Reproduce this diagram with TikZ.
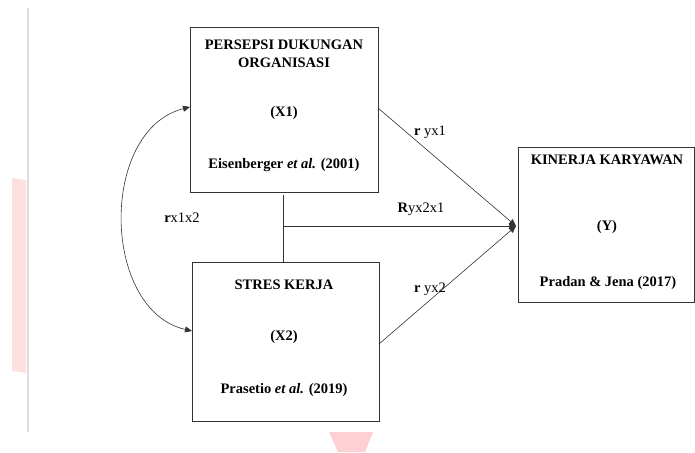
\documentclass[tikz,border=0pt]{standalone}
\usepackage{fontspec}
\setmainfont{Liberation Serif}
\usetikzlibrary{arrows.meta}
\definecolor{pinkbar}{HTML}{FDE0E0}
\definecolor{pinktri}{HTML}{FFD0D3}
\definecolor{grayline}{HTML}{DCDCDC}
\begin{document}
\begin{tikzpicture}[x=1pt,y=-1pt,
  varbox/.style={draw=black!80,line width=0.8pt,inner sep=0pt},
  lbl/.style={font=\fontsize{14.5}{18}\selectfont\bfseries,align=center,inner sep=0pt},
  edgelbl/.style={font=\fontsize{14.5}{17}\selectfont,inner sep=0pt},
  conn/.style={draw=black!80,line width=0.6pt},
  arr/.style={conn,-{Triangle[length=7pt,width=6pt]}}]
\useasboundingbox (0,0) rectangle (695,452);
% decorative marks
\fill[pinkbar] (12,178) -- (26,180) -- (26,373) -- (12,371) -- cycle;
\draw[grayline,line width=2pt] (28,8) -- (28,432);
\fill[pinktri] (329,432) -- (373,432) -- (365,452) -- (338,452) -- cycle;
% boxes
\node[varbox,minimum width=188pt,minimum height=165pt] (x1) at (284,109.5) {};
\node[varbox,minimum width=187pt,minimum height=159pt] (x2) at (285.5,341.5) {};
\node[varbox,minimum width=176pt,minimum height=155pt] (y) at (606,224.5) {};
% texts
\node[lbl] (t1a) at (284,54) {PERSEPSI DUKUNGAN\\ORGANISASI};
\node[lbl] (t1b) at (284,113) {(X1)};
\node[lbl] (t1c) at (284,165) {Eisenberger \textit{et al.} (2001)};
\node[lbl] (t2a) at (284,285) {STRES KERJA};
\node[lbl] (t2b) at (284,337) {(X2)};
\node[lbl] (t2c) at (284,390) {Prasetio \textit{et al.} (2019)};
\node[lbl] (t3a) at (607,160) {KINERJA KARYAWAN};
\node[lbl] (t3b) at (607,227) {(Y)};
\node[lbl] (t3c) at (608,283) {Pradan \& Jena (2017)};
% connectors
\coordinate (tip) at (516,226);
\coordinate (x1r) at (378,108);
\coordinate (x2r) at (379,344);
\coordinate (vtop) at (283,195);
\coordinate (vbot) at (283,262);
\coordinate (junc) at (283,226);
\draw[arr] (x1r) -- (tip);
\draw[arr] (x2r) -- (tip);
\draw[conn] (vtop) -- (vbot);
\draw[arr] (junc) -- (tip);
\coordinate (c1) at (190,107);
\coordinate (c2) at (192,331);
\draw[conn,{Triangle[length=7pt,width=6pt]}-{Triangle[length=7pt,width=6pt]}] (c1) .. controls (99,130) and (101,310) .. (c2);
% labels
\node[edgelbl] (l1) at (430,132) {\textbf{r} yx1};
\node[edgelbl] (l2) at (421,209) {\textbf{R}yx2x1};
\node[edgelbl] (l3) at (430,289) {\textbf{r} yx2};
\node[edgelbl] (l4) at (182,218) {\textbf{r}x1x2};
\end{tikzpicture}
\end{document}
